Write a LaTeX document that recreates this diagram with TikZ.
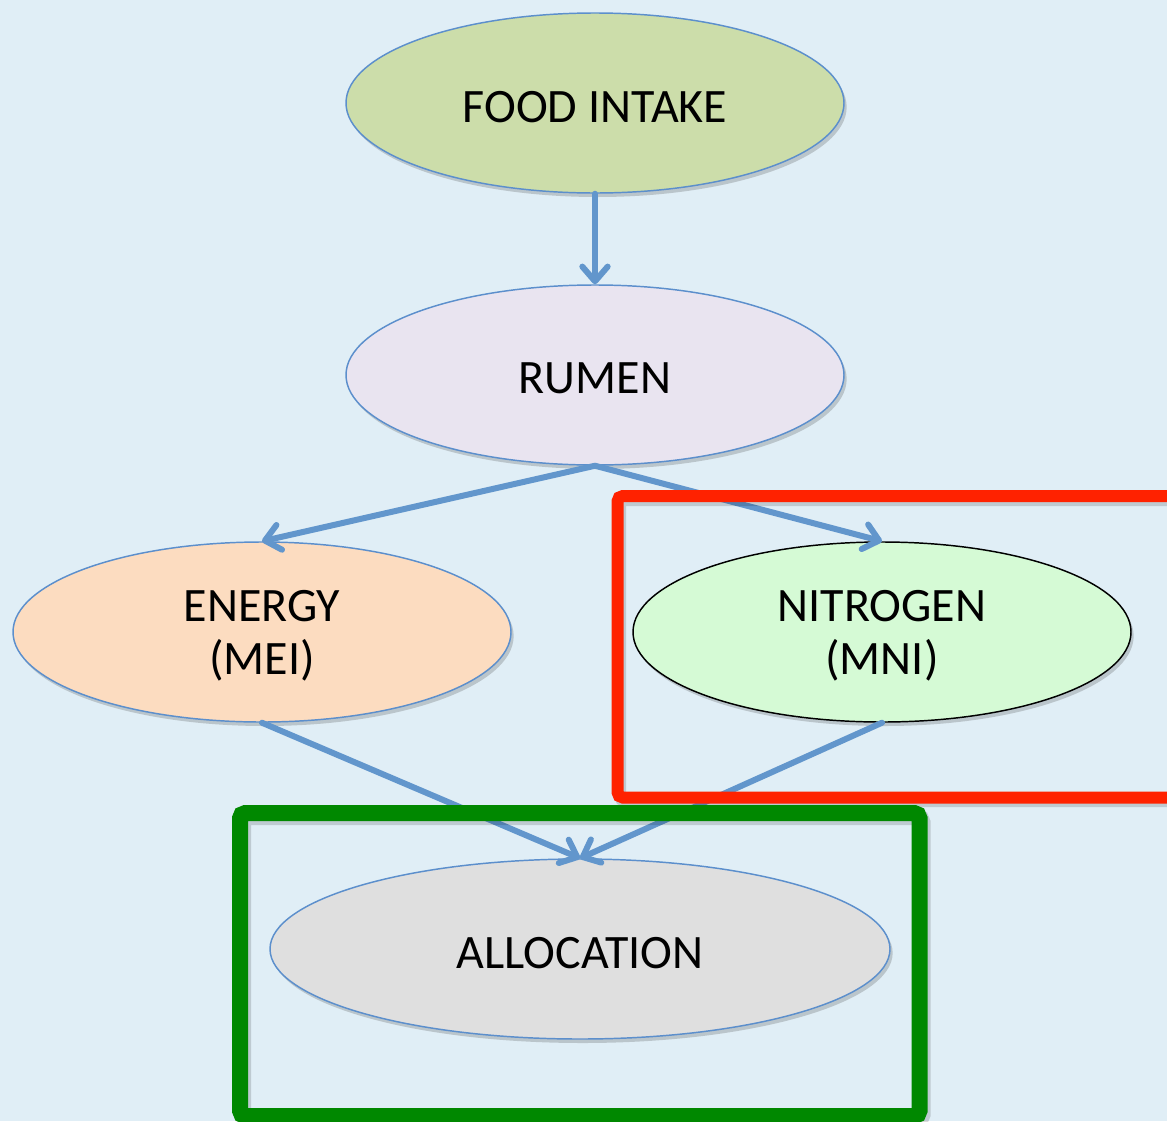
\documentclass[tikz,border=0pt]{standalone}
\usepackage{fontspec}
\setmainfont{Carlito}
\usetikzlibrary{shapes.geometric,arrows.meta,shadows}
\definecolor{bgc}{RGB}{224,238,246}
\definecolor{edgeblue}{RGB}{92,143,204}
\definecolor{arrblue}{RGB}{98,150,204}
\definecolor{foodc}{RGB}{204,221,170}
\definecolor{rumenc}{RGB}{233,228,240}
\definecolor{energyc}{RGB}{252,220,192}
\definecolor{nitroc}{RGB}{213,250,213}
\definecolor{allocc}{RGB}{223,223,223}
\definecolor{redbox}{RGB}{255,34,0}
\definecolor{greenbox}{RGB}{0,136,0}
\newcommand\lowtxt[1]{\raisebox{-2.8pt}[\height][\depth]{#1}}
\tikzset{
  oval/.style={ellipse, draw=edgeblue, line width=1.1pt, inner sep=0pt,
    minimum width=373.5pt, minimum height=135pt, align=center,
    font=\fontsize{36}{40}\selectfont,
    drop shadow={shadow xshift=2pt, shadow yshift=-3pt, opacity=0.25, fill=black!70}},
  arr/.style={draw=arrblue, line width=4.5pt, line cap=round,
    -{Straight Barb[length=11pt, width=19pt, round]}},
  hlbox/.style={line width=#1, rounded corners=4pt},
  boxshadow/.style={draw=black, opacity=0.15, line width=#1, rounded corners=4pt}
}
\begin{document}
\begin{tikzpicture}[x=0.75pt, y=-0.75pt]
  \fill[bgc] (0,0) rectangle (1167,1121);
  \useasboundingbox (0,0) rectangle (1167,1121);
  \clip (0,0) rectangle (1167,1121);

  \node[oval, fill=foodc] (food) at (595,103) {\lowtxt{FOOD INTAKE}};
  \node[oval, fill=rumenc] (rumen) at (595,375) {\lowtxt{RUMEN}};
  \node[oval, fill=energyc] (energy) at (262,632) {\lowtxt{ENERGY}\\\lowtxt{(MEI)}};
  \node[oval, fill=nitroc, draw=black] (nitro) at (882,632) {\lowtxt{NITROGEN}\\\lowtxt{(MNI)}};
  \node[oval, fill=allocc, minimum width=465pt] (alloc) at (580,949) {\lowtxt{ALLOCATION}};

  \draw[arr] (food.south) -- (rumen.north);
  \draw[arr] (rumen.south) -- (energy.north);
  \draw[arr] (rumen.south) -- (nitro.north);
  \draw[arr] (energy.south) -- (alloc.north);
  \draw[arr] (nitro.south) -- (alloc.north);

  % highlight boxes
  \draw[boxshadow=9pt] (620,500) rectangle (1190,801);
  \draw[redbox, hlbox=9pt] (617.5,496) rectangle (1190,797.5);
  \draw[boxshadow=12pt] (243,817) rectangle (922.5,1120);
  \draw[greenbox, hlbox=12pt] (240,813) rectangle (919.5,1116);
\end{tikzpicture}
\end{document}
